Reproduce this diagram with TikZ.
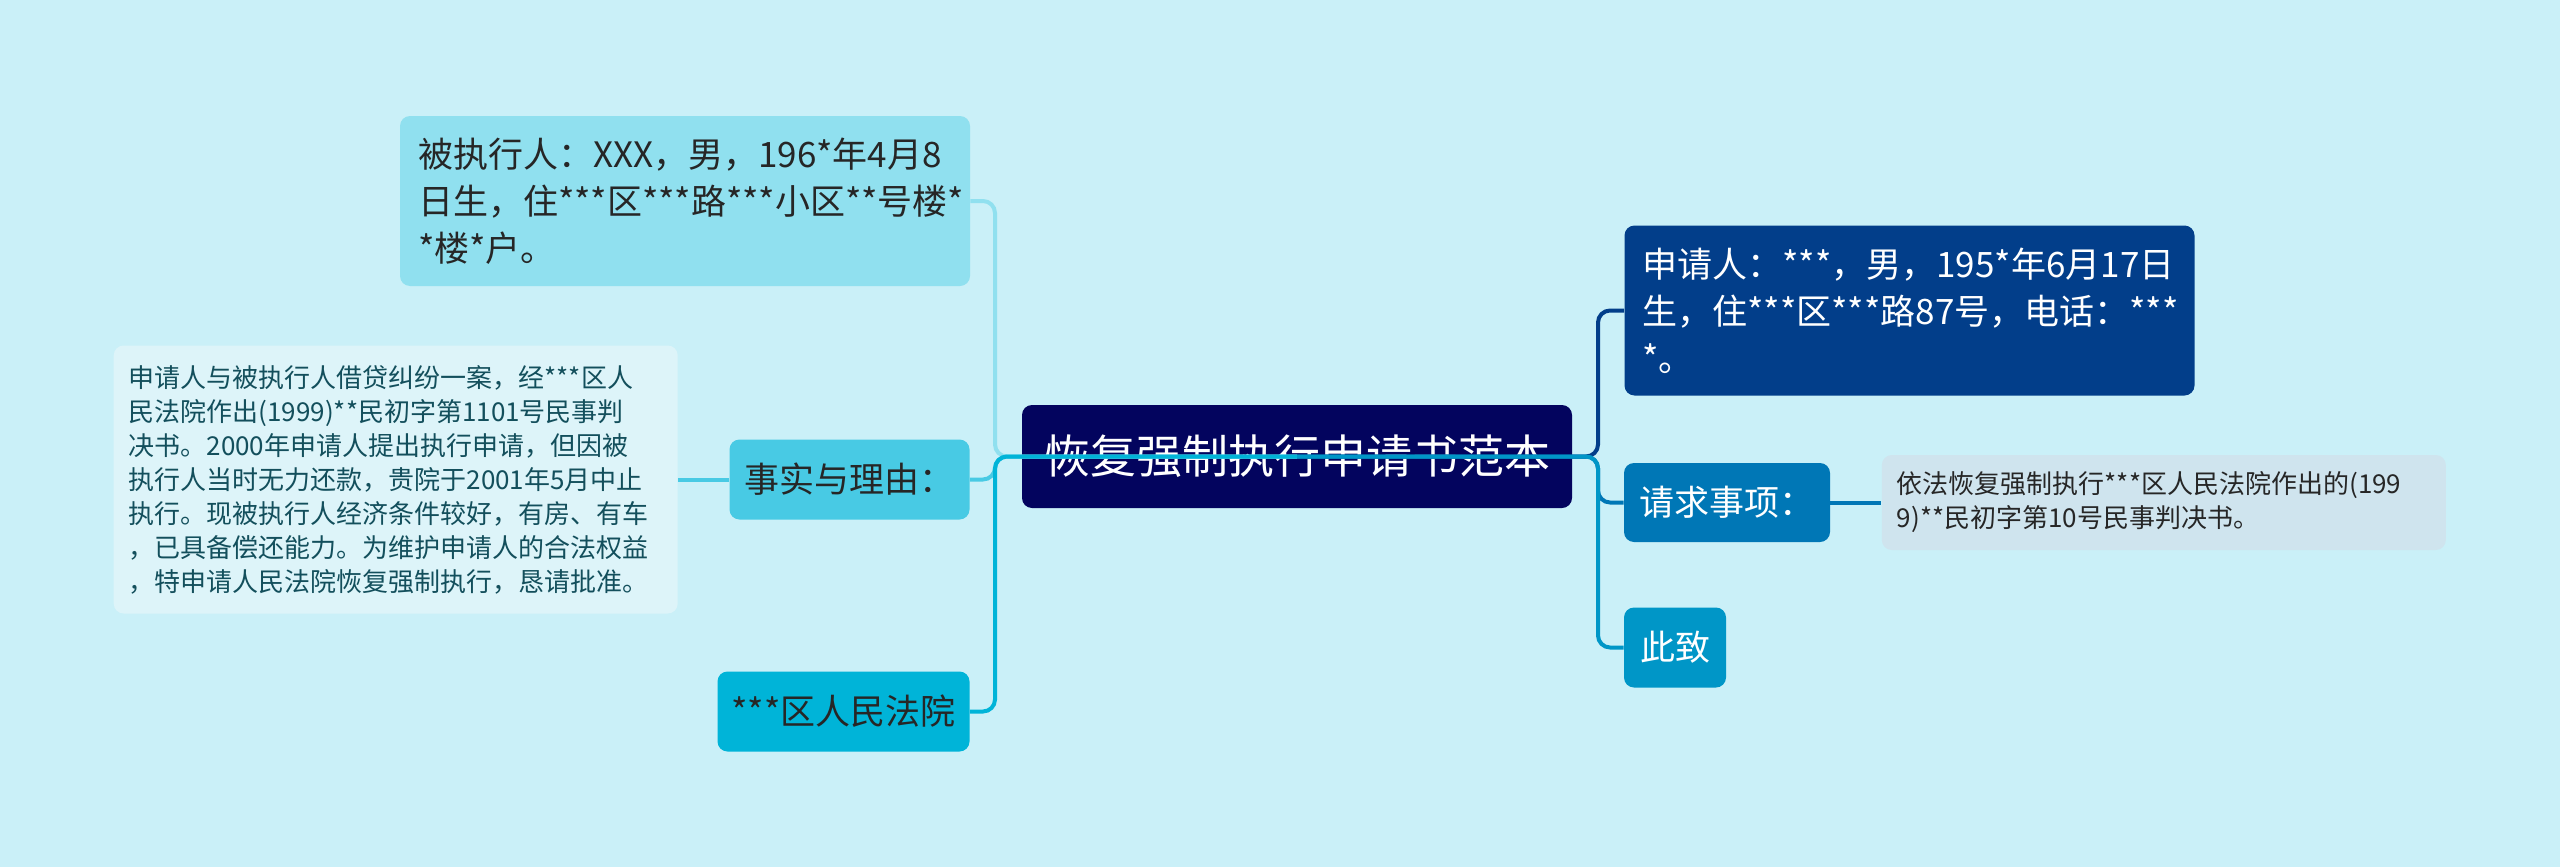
\documentclass[tikz,border=0pt]{standalone}
\usepackage{fontspec}
\setmainfont{Noto Sans CJK SC}
\usepackage{tikz}
\usetikzlibrary{positioning}
\usepackage{xcolor}
\definecolor{bgcyan}{HTML}{CAF0F8}
\definecolor{navy}{HTML}{03045E}
\definecolor{deepblue}{HTML}{023E8A}
\definecolor{midblue}{HTML}{0077B6}
\definecolor{skyblue}{HTML}{0096C7}
\definecolor{brightcyan}{HTML}{00B4D8}
\definecolor{softcyan}{HTML}{48CAE4}
\definecolor{palecyan}{HTML}{90E0EF}
\definecolor{leafleft}{HTML}{DDF4F9}
\definecolor{leafright}{HTML}{CFE4EE}
\definecolor{tealtext}{HTML}{134F5C}

\begin{document}
\begin{tikzpicture}[
  x=0.5pt, y=-0.5pt,
  topic/.style={rounded corners=5pt, inner xsep=5pt, inner ysep=0pt, align=center, font=\fontsize{17.5}{23.5}\selectfont},
  bigtopic/.style={topic, inner xsep=9pt, align=left, text width=267pt, minimum height=85pt},
  leaf/.style={rounded corners=5pt, inner xsep=7.5pt, inner ysep=0pt, align=left, text width=267pt, font=\fontsize{13}{17}\selectfont},
  branch/.style={line width=2pt, rounded corners=6pt}
]
\path[use as bounding box, fill=bgcyan] (0,0) rectangle (2560,867);
\node[topic, fill=navy, text=white, minimum width=275pt, minimum height=51.5pt, font=\fontsize{23}{28}\selectfont] (root) at (1297,456.5) {恢复强制执行申请书范本};
\node[bigtopic, fill=palecyan, text=black!85] (bei) at (685,201) {被执行人：XXX，男，196*年4月8\\日生，住***区***路***小区**号楼*\\{}*楼*户。};
\node[topic, fill=softcyan, text=black!85, minimum width=120pt, minimum height=40pt] (facts) at (849.5,479.5) {事实与理由：};
\node[topic, fill=brightcyan, text=black!85, minimum width=126pt, minimum height=40pt] (court) at (843.5,711.5) {***区人民法院};
\node[leaf, fill=leafleft, text=tealtext, minimum height=134pt, left=25.5pt of facts] (factsleaf) {申请人与被执行人借贷纠纷一案，经***区人\\民法院作出(1999)**民初字第1101号民事判\\决书。2000年申请人提出执行申请，但因被\\执行人当时无力还款，贵院于2001年5月中止\\执行。现被执行人经济条件较好，有房、有车\\，已具备偿还能力。为维护申请人的合法权益\\，特申请人民法院恢复强制执行，恳请批准。};
\node[bigtopic, fill=deepblue, text=white] (applicant) at (1909.5,310.5) {申请人：***，男，195*年6月17日\\生，住***区***路87号，电话：***\\{}*。};
\node[topic, fill=midblue, text=white, minimum width=103pt, minimum height=39.5pt] (request) at (1727,502.5) {请求事项：};
\node[leaf, fill=leafright, text=black!85, minimum height=47.5pt, right=25.5pt of request] (requestleaf) {依法恢复强制执行***区人民法院作出的(199\\9)**民初字第10号民事判决书。};
\node[topic, fill=skyblue, text=white, minimum width=51pt, minimum height=40pt] (salute) at (1675,647.5) {此致};
\coordinate (lspine) at (995,456.5);
\coordinate (rspine) at (1598,456.5);
\draw[branch, palecyan] (root.center) -- (lspine) |- (bei.east);
\draw[branch, softcyan] (root.center) -- (lspine) |- (facts.east);
\draw[branch, brightcyan] (root.center) -- (lspine) |- (court.east);
\draw[branch, softcyan] (facts) -- (factsleaf);
\draw[branch, deepblue] (root.center) -- (rspine) |- (applicant.west);
\draw[branch, midblue] (root.center) -- (rspine) |- (request.west);
\draw[branch, skyblue] (root.center) -- (rspine) |- (salute.west);
\draw[branch, midblue] (request) -- (requestleaf);
\end{tikzpicture}
\end{document}
